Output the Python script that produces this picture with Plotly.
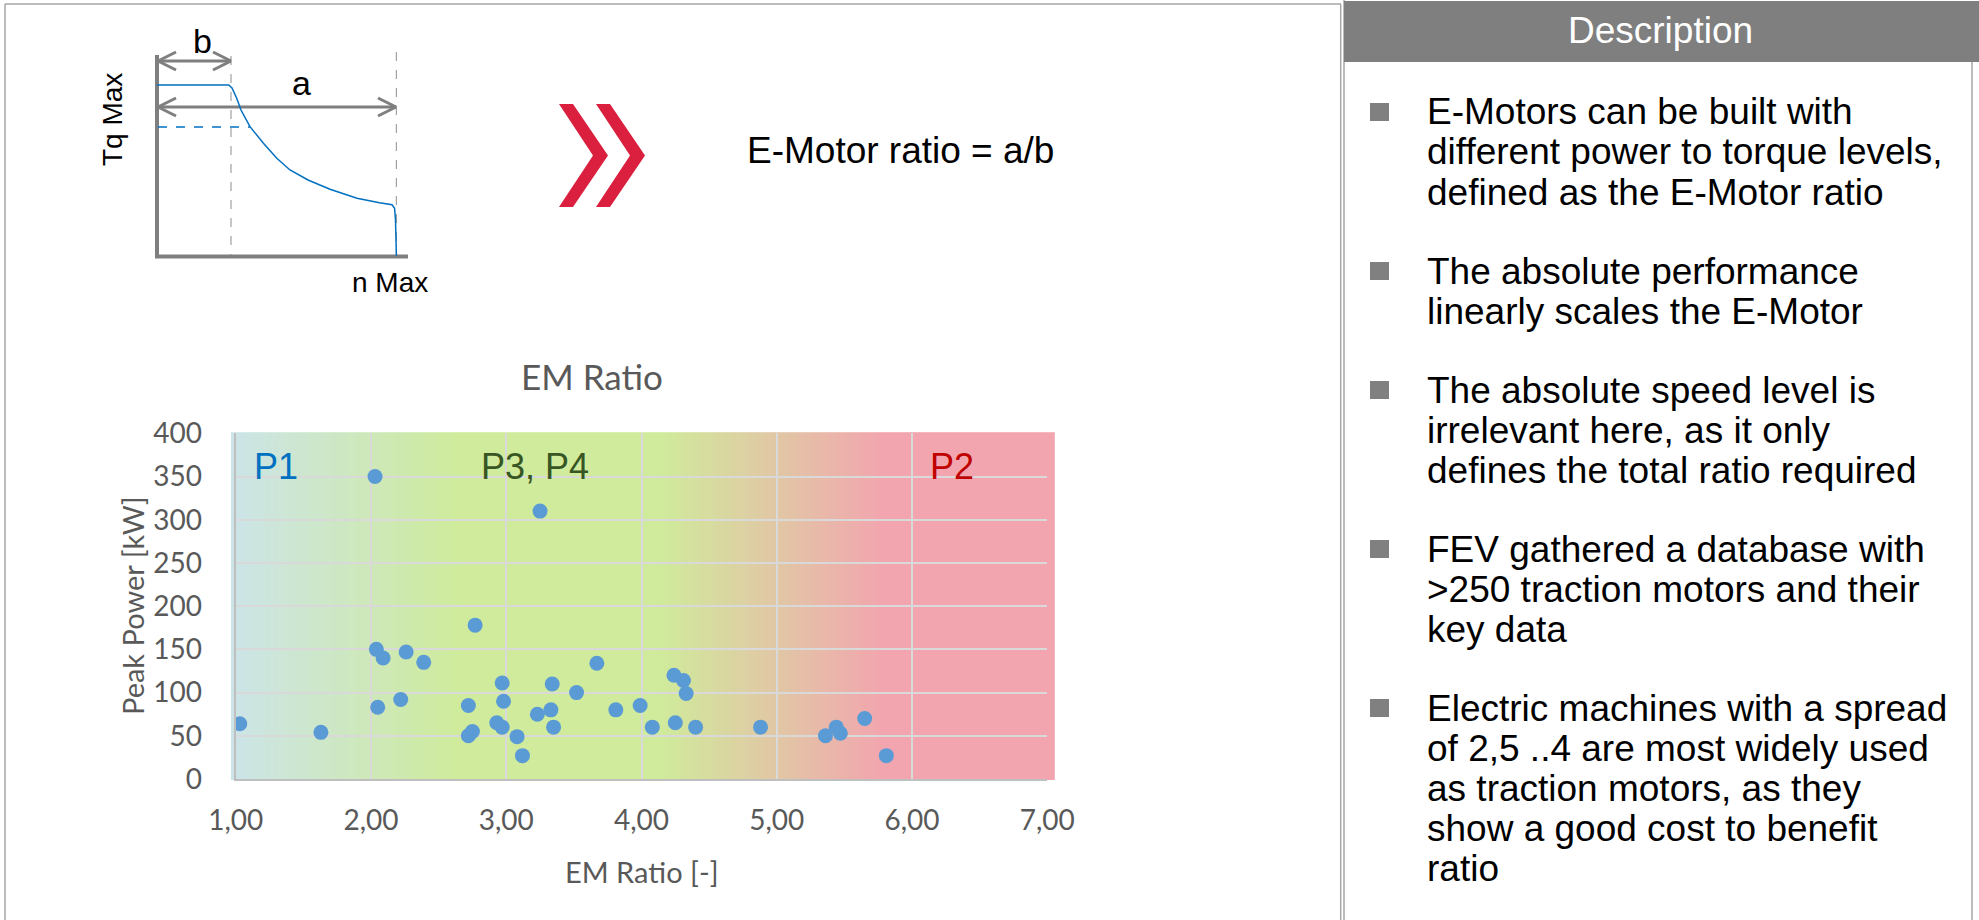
import plotly.graph_objects as go

W, H = 1979, 920

# ---------------- data ----------------
em_ratio = [1.03, 1.63, 2.03, 2.04, 2.09, 2.05, 2.26, 2.22, 2.39, 2.77,
            2.72, 2.72, 2.75, 2.97, 2.98, 2.93, 2.97, 3.08, 3.12, 3.25,
            3.23, 3.33, 3.34, 3.35, 3.52, 3.67, 3.81, 3.99, 4.08, 4.24,
            4.31, 4.33, 4.25, 4.40, 4.88, 5.36, 5.44, 5.47, 5.65, 5.81]
peak_power = [64, 54, 350, 150, 140, 83, 147, 92, 135, 178,
              85, 50, 55, 111, 90, 65, 60, 49, 27, 310,
              75, 80, 110, 60, 100, 134, 80, 85, 60, 120,
              114, 99, 65, 60, 60, 50, 60, 53, 70, 27]

x_ticks = [1, 2, 3, 4, 5, 6, 7]
x_tick_labels = ["1,00", "2,00", "3,00", "4,00", "5,00", "6,00", "7,00"]
y_ticks = [0, 50, 100, 150, 200, 250, 300, 350, 400]
y_tick_labels = [str(v) for v in y_ticks]

zone_labels = ["P1", "P3, P4", "P2"]
zone_x = [1.12, 2.80, 6.12]
zone_y = [362, 362, 362]
zone_colors = ["#0070C0", "#375623", "#C00000"]

chart_title = "EM Ratio"
x_title = "EM Ratio [-]"
y_title = "Peak Power [kW]"

desc_header = "Description"
desc_paragraphs = [
    ["E-Motors can be built with", "different power to torque levels,", "defined as the E-Motor ratio"],
    ["The absolute performance", "linearly scales the E-Motor"],
    ["The absolute speed level is", "irrelevant here, as it only", "defines the total ratio required"],
    ["FEV gathered a database with", ">250 traction motors and their", "key data"],
    ["Electric machines with a spread", "of 2,5 ..4 are most widely used", "as traction motors, as they",
     "show a good cost to benefit", "ratio"],
]

# ---------------- helpers (pixel -> paper) ----------------
def X(px):
    return px / W

def Y(py):
    return 1 - py / H

CHART_FONT = "Lato"
SLIDE_FONT = "Liberation Sans, Arial, sans-serif"
GRAY_TXT = "#595959"
SLIDE_SIZE = 37

plot_l, plot_r, plot_t, plot_b = 235.7, 1047.3, 433.3, 779.0

shapes = []
annotations = []

# ---------------- gradient background of the plot area ----------------
grad_stops = [(231, (204, 228, 232)), (460, (207, 235, 155)), (660, (207, 235, 155)),
              (885, (242, 165, 174)), (1054, (242, 165, 174))]

def grad_color(px):
    for (p0, c0), (p1, c1) in zip(grad_stops[:-1], grad_stops[1:]):
        if p0 <= px <= p1:
            t = (px - p0) / (p1 - p0)
            return "rgb(%d,%d,%d)" % tuple(round(a + (b - a) * t) for a, b in zip(c0, c1))
    return "rgb(%d,%d,%d)" % grad_stops[-1][1]

step = 4
px = 231
while px < 1054:
    x1 = min(px + step, 1054)
    shapes.append(dict(type="rect", xref="paper", yref="paper", layer="below",
                       x0=X(px), x1=X(x1 + 0.8), y0=Y(plot_b + 1), y1=Y(plot_t - 1),
                       fillcolor=grad_color(px + step / 2), line=dict(width=0)))
    px = x1

# ---------------- scatter ----------------
fig = go.Figure()
fig.add_trace(go.Scatter(
    x=em_ratio, y=peak_power, mode="markers",
    marker=dict(color="#5B9BD5", size=15, line=dict(width=0)),
    showlegend=False, hoverinfo="x+y"))

for lab, zx, zy, zc in zip(zone_labels, zone_x, zone_y, zone_colors):
    annotations.append(dict(x=zx, y=zy, xref="x", yref="y", text=lab, showarrow=False,
                            xanchor="left", yanchor="middle",
                            font=dict(family=SLIDE_FONT, size=36, color=zc)))

annotations.append(dict(x=X(592), y=Y(376), xref="paper", yref="paper", text=chart_title,
                        showarrow=False, xanchor="center", yanchor="middle",
                        font=dict(family=CHART_FONT, size=35, color=GRAY_TXT)))
annotations.append(dict(x=X(642), y=Y(871), xref="paper", yref="paper", text=x_title,
                        showarrow=False, xanchor="center", yanchor="middle",
                        font=dict(family=CHART_FONT, size=29, color=GRAY_TXT)))
annotations.append(dict(x=X(132), y=Y(606), xref="paper", yref="paper", text=y_title,
                        showarrow=False, xanchor="center", yanchor="middle", textangle=-90,
                        font=dict(family=CHART_FONT, size=29, color=GRAY_TXT)))

# ---------------- top-left torque diagram ----------------
AX_GRAY = "#7F7F7F"

def line(x0, y0, x1, y1, color, width, dash=None):
    d = dict(type="line", xref="paper", yref="paper", x0=X(x0), y0=Y(y0), x1=X(x1), y1=Y(y1),
             line=dict(color=color, width=width))
    if dash:
        d["line"]["dash"] = dash
    shapes.append(d)

# dashed verticals
line(231, 56, 231, 256, "#A0A0A0", 1.2, "dash")
line(396.4, 52, 396.4, 256, "#A0A0A0", 1.2, "dash")
# axes
line(157, 55, 157, 258, AX_GRAY, 4)
line(155, 256.5, 408, 256.5, AX_GRAY, 4)

# double-headed arrows
def dbl_arrow(xa, xb, yy):
    line(xa, yy, xb, yy, AX_GRAY, 3)
    line(xa, yy, xa + 18, yy - 9, AX_GRAY, 3)
    line(xa, yy, xa + 18, yy + 9, AX_GRAY, 3)
    line(xb, yy, xb - 18, yy - 9, AX_GRAY, 3)
    line(xb, yy, xb - 18, yy + 9, AX_GRAY, 3)

dbl_arrow(158, 231, 61)
dbl_arrow(158, 396, 107)

# torque curve (illustration)
curve_px = [(157, 85), (228.6, 85), (232, 88), (236.6, 98), (241, 110), (250, 126.7),
            (263.4, 143.3), (276.8, 158.3), (290, 170), (308, 180), (330, 189.3),
            (357, 198.3), (379.5, 202.7), (392, 204.7), (394.6, 208.3), (395.5, 220),
            (396.4, 255.7)]
path = "M " + " L ".join("%.6f,%.6f" % (X(a), Y(b)) for a, b in curve_px)
shapes.append(dict(type="path", xref="paper", yref="paper", path=path,
                   line=dict(color="#0070C0", width=1.5)))
line(158, 127, 250, 127, "#0070C0", 1.5, "dash")

annotations.append(dict(x=X(202), y=Y(41), xref="paper", yref="paper", text="b", showarrow=False,
                        xanchor="center", yanchor="middle",
                        font=dict(family=SLIDE_FONT, size=34, color="black")))
annotations.append(dict(x=X(301), y=Y(83), xref="paper", yref="paper", text="a", showarrow=False,
                        xanchor="center", yanchor="middle",
                        font=dict(family=SLIDE_FONT, size=34, color="black")))
annotations.append(dict(x=X(112), y=Y(120), xref="paper", yref="paper", text="Tq Max",
                        showarrow=False, textangle=-90, xanchor="center", yanchor="middle",
                        font=dict(family=SLIDE_FONT, size=28, color="black")))
annotations.append(dict(x=X(389.5), y=Y(282), xref="paper", yref="paper", text="n Max",
                        showarrow=False, xanchor="center", yanchor="middle",
                        font=dict(family=SLIDE_FONT, size=28, color="black")))

# chevrons
def chevron(x0, top, bot):
    mid = (top + bot) / 2
    pts = [(x0, top), (x0 + 14, top), (x0 + 49, mid), (x0 + 14, bot), (x0, bot), (x0 + 34, mid)]
    p = "M " + " L ".join("%.6f,%.6f" % (X(a), Y(b)) for a, b in pts) + " Z"
    shapes.append(dict(type="path", xref="paper", yref="paper", path=p,
                       fillcolor="#DA203E", line=dict(width=0)))

chevron(559, 104, 207)
chevron(596, 104, 207)

annotations.append(dict(x=X(745), y=Y(150), xref="paper", yref="paper", text="E-Motor ratio = a/b",
                        showarrow=False, xanchor="left", yanchor="middle",
                        font=dict(family=SLIDE_FONT, size=SLIDE_SIZE, color="black")))

# ---------------- panel frames ----------------
BORDER = "#A6A6A6"
line(5, 4, 1341, 4, BORDER, 1.5)
line(5, 4, 5, 921, BORDER, 1.5)
line(1340.7, 4, 1340.7, 921, BORDER, 1.5)
line(1344, 0, 1344, 921, BORDER, 1.5)
line(1972, 60, 1972, 921, BORDER, 1.5)

# description header
shapes.append(dict(type="rect", xref="paper", yref="paper", x0=X(1344), x1=X(1979),
                   y0=Y(62), y1=Y(1), fillcolor="#7F7F7F", line=dict(width=0)))
annotations.append(dict(x=X(1660), y=Y(31), xref="paper", yref="paper", text=desc_header,
                        showarrow=False, xanchor="center", yanchor="middle",
                        font=dict(family=SLIDE_FONT, size=SLIDE_SIZE, color="white")))

# bullets
yy = 112
for para in desc_paragraphs:
    shapes.append(dict(type="rect", xref="paper", yref="paper", x0=X(1370), x1=X(1389),
                       y0=Y(yy + 9), y1=Y(yy - 9), fillcolor="#808080", line=dict(width=0)))
    for ln in para:
        annotations.append(dict(x=X(1425), y=Y(yy), xref="paper", yref="paper", text=ln,
                                showarrow=False, xanchor="left", yanchor="middle",
                                font=dict(family=SLIDE_FONT, size=SLIDE_SIZE, color="black")))
        yy += 40
    yy += 39

# ---------------- layout ----------------
fig.update_layout(
    template="none",
    width=W, height=H, autosize=False,
    margin=dict(l=0, r=0, t=0, b=0, pad=0, autoexpand=False),
    paper_bgcolor="white",
    plot_bgcolor="rgba(0,0,0,0)",
    shapes=shapes,
    annotations=annotations,
    xaxis=dict(domain=[X(plot_l), X(plot_r)], range=[1, 7], tickvals=x_ticks, ticktext=x_tick_labels,
               automargin=False,
               showgrid=True, gridcolor="#D9D9D9", gridwidth=1.5, zeroline=False,
               showline=True, linecolor="#BFBFBF", linewidth=2,
               ticks="outside", ticklen=15, tickcolor="rgba(0,0,0,0)",
               tickfont=dict(family=CHART_FONT, size=28, color=GRAY_TXT), fixedrange=True),
    yaxis=dict(domain=[Y(plot_b), Y(plot_t)], range=[0, 400], tickvals=y_ticks, ticktext=y_tick_labels,
               automargin=False,
               showgrid=True, gridcolor="#D9D9D9", gridwidth=1.5, zeroline=False,
               showline=True, linecolor="#BFBFBF", linewidth=2,
               ticks="outside", ticklen=26, tickcolor="rgba(0,0,0,0)",
               tickfont=dict(family=CHART_FONT, size=28, color=GRAY_TXT), fixedrange=True),
    showlegend=False,
)

post_js = ("document.documentElement.style.margin='0';document.documentElement.style.padding='0';"
           "document.body.style.margin='0';document.body.style.padding='0';"
           "document.body.style.overflow='hidden';"
           "var d=document.getElementById('{plot_id}');"
           "d.style.position='absolute';d.style.left='0px';d.style.top='0px';")

fig.write_html("out.html", config={"responsive": False, "displayModeBar": False},
               post_script=post_js)
